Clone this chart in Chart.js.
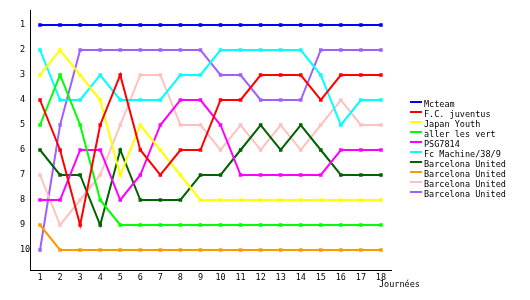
<!DOCTYPE html>
<html>
<head>
<meta charset="utf-8">
<script src="https://cdn.jsdelivr.net/npm/chart.js@4"></script>
<style>
  html, body { margin: 0; padding: 0; background: #fff; }
  #wrap { width: 530px; height: 300px; }
</style>
</head>
<body>
<div id="wrap"><canvas id="rankChart"></canvas></div>
<script>
// journées 1..18
const rounds = ['1','2','3','4','5','6','7','8','9','10','11','12','13','14','15','16','17','18'];
const rankTicks = [1, 2, 3, 4, 5, 6, 7, 8, 9, 10];

const teamNames = ['Mcteam', 'F.C. juventus', 'Japan Youth', 'aller les vert', 'PSG7814',
  'Fc Machine/38/9', 'Barcelona United', 'Barcelona United', 'Barcelona United', 'Barcelona United'];

// classement par journée
const mcteam     = [1, 1, 1, 1, 1, 1, 1, 1, 1, 1, 1, 1, 1, 1, 1, 1, 1, 1];
const juventus   = [4, 6, 9, 5, 3, 6, 7, 6, 6, 4, 4, 3, 3, 3, 4, 3, 3, 3];
const japanYouth = [3, 2, 3, 4, 7, 5, 6, 7, 8, 8, 8, 8, 8, 8, 8, 8, 8, 8];
const allerVert  = [5, 3, 5, 8, 9, 9, 9, 9, 9, 9, 9, 9, 9, 9, 9, 9, 9, 9];
const psg        = [8, 8, 6, 6, 8, 7, 5, 4, 4, 5, 7, 7, 7, 7, 7, 6, 6, 6];
const fcMachine  = [2, 4, 4, 3, 4, 4, 4, 3, 3, 2, 2, 2, 2, 2, 3, 5, 4, 4];
const barca1     = [6, 7, 7, 9, 6, 8, 8, 8, 7, 7, 6, 5, 6, 5, 6, 7, 7, 7];
const barca2     = [9, 10, 10, 10, 10, 10, 10, 10, 10, 10, 10, 10, 10, 10, 10, 10, 10, 10];
const barca3     = [7, 9, 8, 7, 5, 3, 3, 5, 5, 6, 5, 6, 5, 6, 5, 4, 5, 5];
const barca4     = [10, 5, 2, 2, 2, 2, 2, 2, 2, 3, 3, 4, 4, 4, 2, 2, 2, 2];

const series = [mcteam, juventus, japanYouth, allerVert, psg, fcMachine, barca1, barca2, barca3, barca4];
const colors = ['#0000ff', '#ff0000', '#ffff00', '#00ff00', '#ff00ff',
  '#00ffff', '#006400', '#ff9900', '#ffc0c0', '#a060ff'];

const FONT = { family: 'DejaVu Sans Mono', size: 8.5 };

// legende + titre d'axe dessinés à la main
const extras = {
  id: 'extras',
  afterDraw(chart) {
    const ctx = chart.ctx;
    ctx.save();
    ctx.font = FONT.size + 'px "' + FONT.family + '"';
    ctx.fillStyle = '#000';
    ctx.textBaseline = 'middle';
    ctx.textAlign = 'left';
    chart.data.datasets.forEach((ds, i) => {
      const y = 101 + i * 10;
      ctx.fillStyle = ds.borderColor;
      ctx.fillRect(410, y, 12, 2);
      ctx.fillStyle = '#000';
      ctx.fillText(ds.label, 424, y + 4);
    });
    ctx.fillText('Journées', 379, 285);
    ctx.restore();
  }
};

new Chart(document.getElementById('rankChart'), {
  type: 'line',
  data: {
    labels: rounds,
    datasets: series.map((vals, i) => ({
      label: teamNames[i],
      data: vals,
      borderColor: colors[i],
      backgroundColor: colors[i],
      borderWidth: 2,
      pointStyle: 'rect',
      pointRadius: 2.5,
      pointBorderWidth: 0,
      tension: 0,
      fill: false
    }))
  },
  options: {
    responsive: true,
    maintainAspectRatio: false,
    animation: false,
    layout: { padding: { left: 20, top: 10, right: 139, bottom: 0 } },
    plugins: { legend: { display: false }, tooltip: { enabled: false } },
    scales: {
      x: {
        type: 'category',
        offset: true,
        grid: { display: false, drawTicks: false },
        border: { display: true, color: '#000', width: 1 },
        ticks: { color: '#000', font: FONT, padding: 3, maxRotation: 0, autoSkip: false },
        afterFit: s => { s.height = 30; }
      },
      y: {
        type: 'linear',
        reverse: true,
        min: 0.4,
        max: 10.8,
        grid: { display: false, drawTicks: false },
        border: { display: true, color: '#000', width: 1 },
        ticks: { color: '#000', font: FONT, crossAlign: 'far', padding: 3 },
        afterBuildTicks: s => { s.ticks = rankTicks.map(v => ({ value: v })); },
        afterFit: s => { s.width = 10; }
      }
    }
  },
  plugins: [extras]
});
</script>
</body>
</html>
